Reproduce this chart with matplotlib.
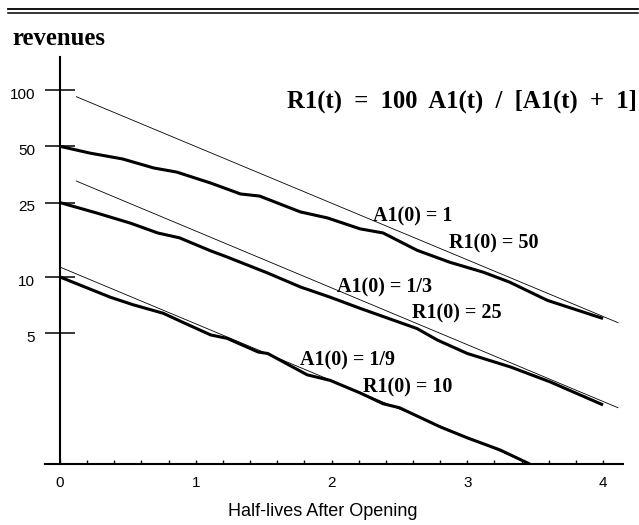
import matplotlib
matplotlib.use("Agg")
import matplotlib.pyplot as plt
import matplotlib.transforms as mtransforms
from matplotlib.lines import Line2D
from matplotlib.ticker import FixedLocator, NullLocator, FixedFormatter, MultipleLocator

# ---------------- data ----------------
# thick curves: R1(t) for three starting values
t_a1 = [0, 0.22, 0.46, 0.69, 0.86, 1.11, 1.33, 1.47, 1.77, 1.97, 2.21, 2.38, 2.63, 2.87, 3.12, 3.31, 3.59, 4.0]
r_a1 = [50, 46.0, 42.8, 38.3, 36.4, 31.8, 27.8, 27.1, 22.3, 20.7, 18.1, 17.2, 13.9, 12.0, 10.6, 9.4, 7.5, 6.0]

t_a3 = [0, 0.27, 0.52, 0.72, 0.88, 1.11, 1.23, 1.53, 1.77, 1.99, 2.21, 2.63, 2.78, 3.0, 3.32, 3.61, 4.0]
r_a3 = [25, 22.0, 19.4, 17.2, 16.2, 13.8, 12.8, 10.5, 8.85, 7.8, 6.8, 5.3, 4.6, 3.9, 3.3, 2.75, 2.07]

t_a9 = [0, 0.37, 0.54, 0.76, 0.91, 1.11, 1.23, 1.46, 1.53, 1.82, 1.99, 2.21, 2.38, 2.5, 2.8, 3.0, 3.24, 3.46]
r_a9 = [10, 7.8, 7.1, 6.4, 5.7, 4.9, 4.7, 3.97, 3.9, 3.0, 2.8, 2.4, 2.1, 2.0, 1.58, 1.38, 1.19, 1.0]

# thin lines: 100*A1(t)
t_thin1 = [0.12, 4.11]
v_thin1 = [92.1, 5.7]
t_thin3 = [0.12, 4.11]
v_thin3 = [32.6, 2.0]
t_thin9 = [0.0, 3.47]
v_thin9 = [11.3, 1.0]

y_ticks = [5, 10, 25, 50, 100]
y_labels = ["5", "10", "25", "50", "100"]
x_major = [0, 1, 2, 3, 4]
x_labels = ["0", "1", "2", "3", "4"]

labels_a = ["A1(0) = 1", "A1(0) = 1/3", "A1(0) = 1/9"]
labels_r = ["R1(0) = 50", "R1(0) = 25", "R1(0) = 10"]
formula = "R1(t)  =  100  A1(t)  /  [A1(t)  +  1]"

# ---------------- figure ----------------
W, H = 639, 525
fig = plt.figure(figsize=(W / 100, H / 100), dpi=100)
fig.patch.set_facecolor("white")

def fx(px):
    return px / W

def fy(py):
    return 1 - py / H

ax = fig.add_axes([fx(45.1), fy(464), (623.4 - 45.1) / W, (464 - 57.1) / H])
ax.set_yscale("log")
ax.set_xlim(-0.11, 4.15)
ax.set_ylim(1, 150)

sans = "Liberation Sans"
serif = "Liberation Serif"

thick = 2.2
thin = 0.6
ax.plot(t_a1, r_a1, color="black", lw=thick, solid_capstyle="butt")
ax.plot(t_a3, r_a3, color="black", lw=thick, solid_capstyle="butt")
ax.plot(t_a9, r_a9, color="black", lw=thick, solid_capstyle="butt")
ax.plot(t_thin1, v_thin1, color="black", lw=thin)
ax.plot(t_thin3, v_thin3, color="black", lw=thin)
ax.plot(t_thin9, v_thin9, color="black", lw=thin)

# spines
for s in ["top", "right"]:
    ax.spines[s].set_visible(False)
ax.spines["left"].set_position(("data", 0))
ax.spines["left"].set_linewidth(1.5)
ax.spines["bottom"].set_linewidth(1.5)

# y ticks
ax.yaxis.set_major_locator(FixedLocator(y_ticks))
ax.yaxis.set_major_formatter(FixedFormatter(y_labels))
ax.yaxis.set_minor_locator(NullLocator())
ax.tick_params(axis="y", which="major", direction="inout", length=21.6, width=1.1,
               pad=7, labelsize=11)

# x ticks
ax.xaxis.set_major_locator(FixedLocator(x_major))
ax.xaxis.set_major_formatter(FixedFormatter(x_labels))
ax.xaxis.set_minor_locator(MultipleLocator(0.2))
ax.tick_params(axis="x", which="both", direction="in", length=3, width=1.0,
               pad=8.5, labelsize=11)
for lab in ax.get_xticklabels() + ax.get_yticklabels():
    lab.set_fontfamily(sans)
offset = mtransforms.ScaledTranslation(0, -3 / 100, fig.dpi_scale_trans)
for lab in ax.get_yticklabels():
    lab.set_transform(lab.get_transform() + offset)

# texts
fig.text(fx(12), fy(45), "revenues", family=serif, weight="bold", fontsize=17.8,
         va="baseline", ha="left")
fig.text(fx(287), fy(108), formula, family=serif, weight="bold", fontsize=17.7,
         va="baseline", ha="left")

ann = [
    (373, 221, labels_a[0]), (449, 248, labels_r[0]),
    (337, 292, labels_a[1]), (412, 318, labels_r[1]),
    (300, 365, labels_a[2]), (363, 392, labels_r[2]),
]
for x, y, s in ann:
    fig.text(fx(x), fy(y), s, family=serif, weight="bold", fontsize=14.5,
             va="baseline", ha="left")

fig.text(fx(323), fy(511), "Half-lives After Opening", family=sans, fontsize=13,
         va="center", ha="center")

# double rule at top
fig.add_artist(Line2D([fx(8), fx(638)], [fy(9), fy(9)], color="black", lw=1.3,
                      transform=fig.transFigure))
fig.add_artist(Line2D([fx(8), fx(638)], [fy(13.3), fy(13.3)], color="black", lw=1.1,
                      transform=fig.transFigure))

fig.savefig("out.png", dpi=100, facecolor="white")
